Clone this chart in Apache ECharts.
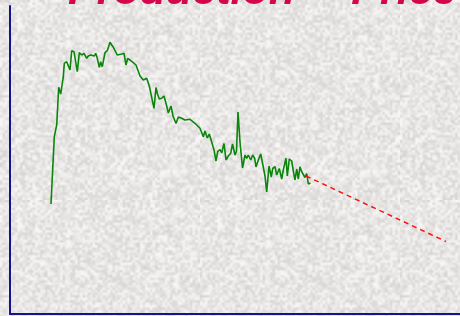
<!DOCTYPE html>
<html>
<head>
<meta charset="utf-8">
<script src="https://cdn.jsdelivr.net/npm/echarts@6/dist/echarts.min.js"></script>
<style>
  html, body { margin: 0; padding: 0; }
  #chart { width: 460px; height: 316px; }
</style>
</head>
<body>
<div id="chart"></div>
<script>
// production vs price (axes carry no labels)
var titleText = 'Production \u2013 \u2009Price'

var periods = [41, 44.3, 46.7, 48.7, 50.7, 53.3, 54.3, 56.7, 58.3, 60, 61.7, 64, 65.7, 67.3, 69.3, 71.7, 74, 76.7, 78.3, 80.7,
  82.7, 84.3, 85.7, 87.3, 89.3, 90.7, 92.3, 95, 97.3, 100, 101.7, 103.3, 105, 107.3, 109.3, 111.7, 114, 116, 117.7, 120,
  123.3, 126, 130, 133.3, 136.7, 139.3, 141, 144, 146, 147.5, 149.3, 151.7, 154, 156.7, 158.3, 161, 163, 166, 168.3, 171.7,
  175, 177, 180, 185, 190, 193.3, 195, 197.3, 199.3, 201.7, 204, 206, 207.7, 210, 211.7, 214, 216, 218.3, 220.7, 222.5,
  225, 226.5, 228, 230, 232.5, 235, 236.7, 238.3, 240.7, 242.7, 244.7, 246, 248.3, 250.7, 252.7, 255, 256.7, 259, 261.3, 262.7,
  265, 266.7, 269.3, 271.7, 273.3, 276, 277.3, 279.3, 281.7, 283.3, 285, 286.7, 288.3, 290, 291.7, 293.3, 295, 296.7, 298.3, 300.5]

var prices = [110, 177.3, 189, 226.7, 220, 237.3, 250.7, 252.3, 253, 244, 263.3, 262.3, 261.7, 242.3, 261.3, 259, 260.7, 255.7, 258, 259,
  260.7, 258, 260.7, 255.7, 246.7, 252.3, 247.3, 261.3, 263.3, 271.7, 269, 266.7, 268, 259, 260.7, 260, 260.7, 249, 255.7, 254,
  251.3, 249, 238, 234, 235.7, 228, 226, 205.7, 226.5, 220, 215, 215.7, 218, 208, 201, 208, 198, 190.5, 197, 195.7,
  194, 192.3, 194.7, 190.7, 185.7, 177.3, 183, 176, 180, 172, 164, 153, 162.3, 164.5, 161, 170.5, 154, 158, 160.7, 170,
  159, 163, 202, 172, 146, 159, 155.7, 159, 154, 159, 155.7, 147, 154, 160, 150, 138, 122, 148, 137, 145.5,
  147.3, 139, 145.5, 135, 144, 155.7, 138, 155, 153, 143, 134, 145, 135, 147.3, 142.3, 144, 136.5, 140.5, 130, 131]

var trendPeriods = [296, 436]
var trendPrices = [138, 72.5]

function zip(a, b) {
  return a.map(function (v, i) { return [v, b[i]] })
}

// grey speckled paper behind the plot
function paperTile() {
  var small = document.createElement('canvas')
  small.width = small.height = 80
  var ctx = small.getContext('2d')
  var img = ctx.createImageData(80, 80)
  var s = 987654
  for (var i = 0; i < 80 * 80; i++) {
    s = (s * 1103515245 + 12345) & 0x7fffffff
    var v = 214 + ((s >> 16) % 36)
    img.data[i * 4] = v
    img.data[i * 4 + 1] = v - 1
    img.data[i * 4 + 2] = v - 2
    img.data[i * 4 + 3] = 255
  }
  ctx.putImageData(img, 0, 0)
  var big = document.createElement('canvas')
  big.width = big.height = 200
  var bctx = big.getContext('2d')
  bctx.imageSmoothingEnabled = true
  bctx.drawImage(small, 0, 0, 200, 200)
  return big.toDataURL()
}
document.body.style.background = 'url(' + paperTile() + ')'

var chart = echarts.init(document.getElementById('chart'), null, { renderer: 'canvas' })

var axisLine = { show: true, lineStyle: { color: '#14148c', width: 2 } }

chart.setOption({
  backgroundColor: 'transparent',
  animation: false,
  grid: { left: 10, right: 0, top: 6, bottom: 2 },
  graphic: [{
    type: 'text',
    x: 68,
    y: -7.5,
    style: {
      text: titleText,
      fill: '#d3064e',
      verticalAlign: 'middle',
      font: 'italic bold 43px "Liberation Sans", Arial, sans-serif'
    }
  }],
  xAxis: {
    type: 'value', min: 0, max: 450,
    axisLine: axisLine, axisTick: { show: false }, axisLabel: { show: false }, splitLine: { show: false }
  },
  yAxis: {
    type: 'value', min: 0, max: 308,
    axisLine: axisLine, axisTick: { show: false }, axisLabel: { show: false }, splitLine: { show: false }
  },
  series: [
    {
      name: 'Price',
      type: 'line',
      data: zip(periods, prices),
      showSymbol: false,
      lineStyle: { color: '#0a860a', width: 1.6 }
    },
    {
      name: 'Trend',
      type: 'line',
      data: zip(trendPeriods, trendPrices),
      showSymbol: false,
      lineStyle: { color: '#ff1010', width: 1.5, type: [5, 4] }
    }
  ]
})
</script>
</body>
</html>
